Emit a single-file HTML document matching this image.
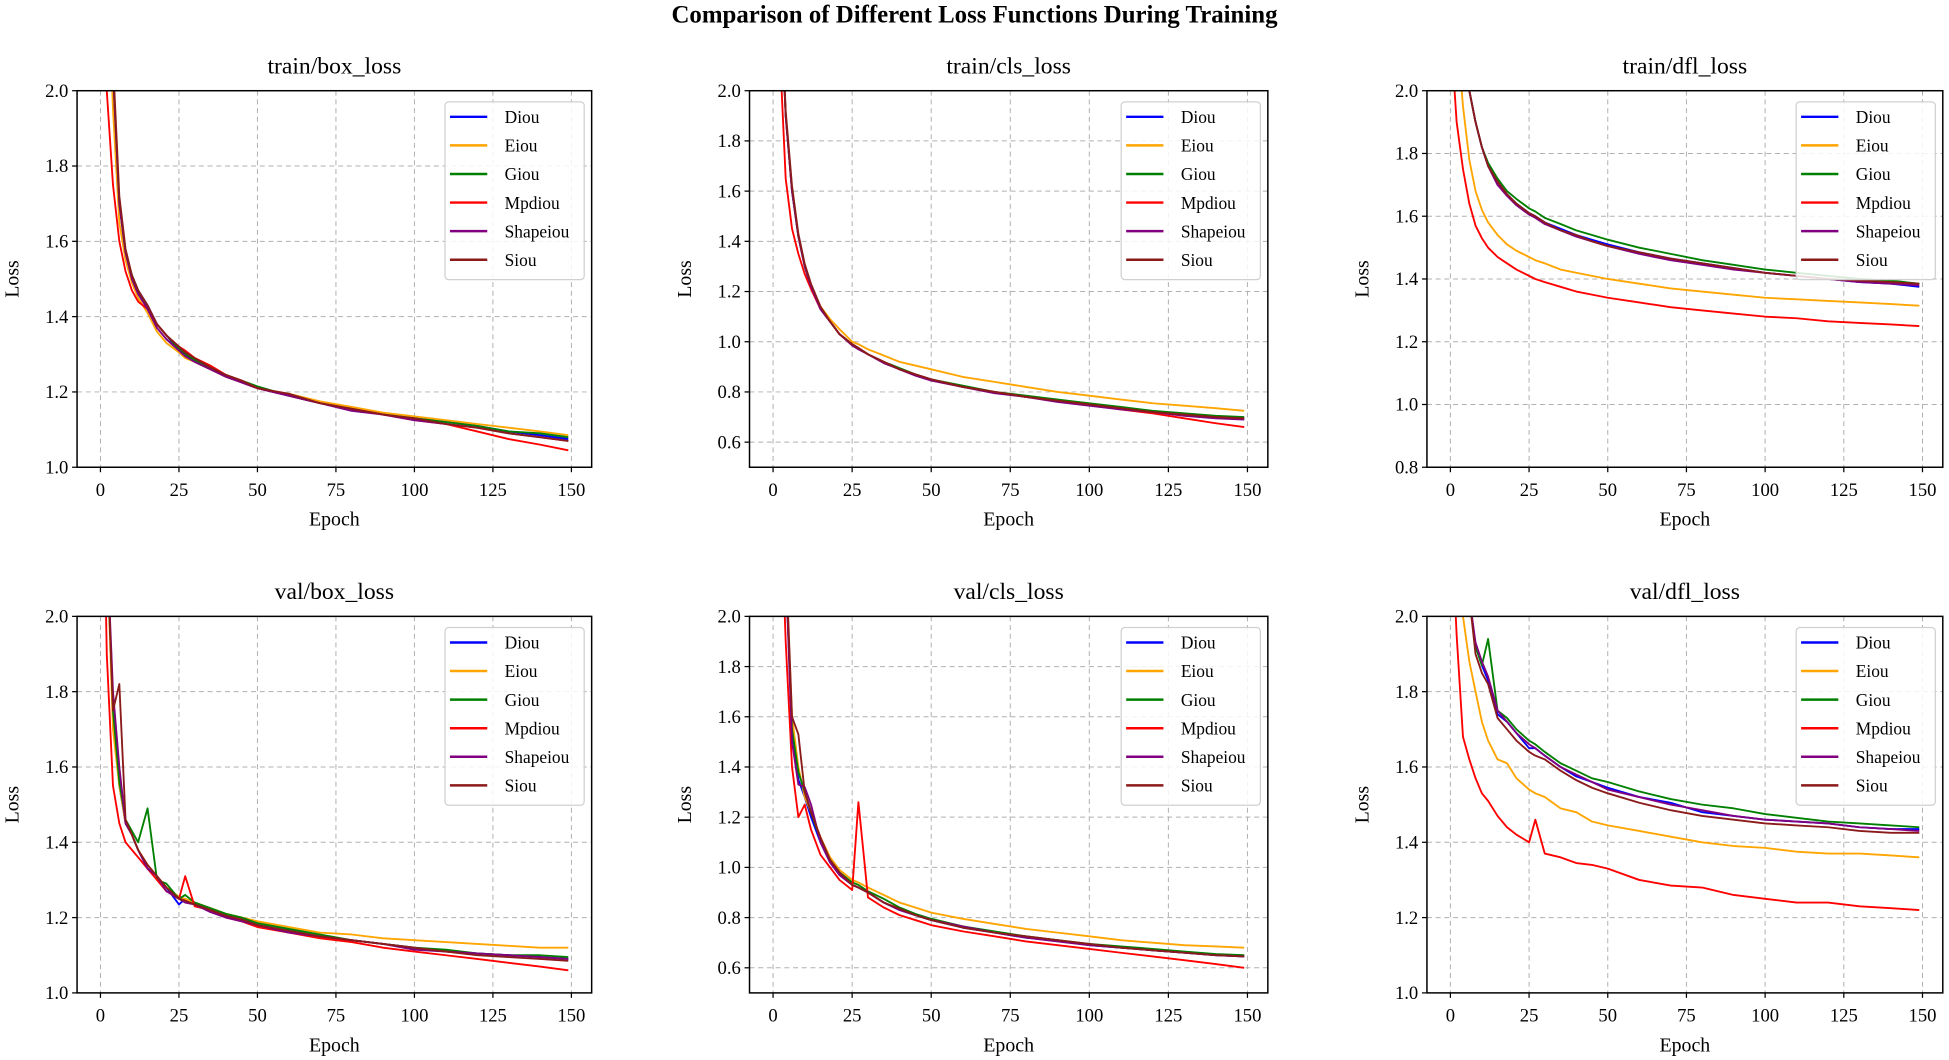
<!DOCTYPE html>
<html><head><meta charset="utf-8"><style>
html,body{margin:0;padding:0;background:#fff;}
svg{display:block;font-family:"Liberation Serif",serif;}
</style></head><body>
<svg id="fig" width="1949" height="1060" viewBox="0 0 1568 853" preserveAspectRatio="none" xmlns="http://www.w3.org/2000/svg">
<rect width="1568" height="853" fill="#fff"/>
<text x="784" y="18" text-anchor="middle" font-size="20" font-weight="bold">Comparison of Different Loss Functions During Training</text>
</svg>
<script>
const epochs=[0,2,4,6,8,10,12,15,18,21,25,27,30,35,40,45,50,60,70,80,90,100,110,120,130,140,149];
const seriesNames=["Diou","Eiou","Giou","Mpdiou","Shapeiou","Siou"];
const seriesColors=["#0000ff","#ffa500","#008000","#ff0000","#800080","#8b1a1a"];
const panelTitles=["train/box_loss","train/cls_loss","train/dfl_loss","val/box_loss","val/cls_loss","val/dfl_loss"];
const yLimits=[[1.0,2.0],[0.5,2.0],[0.8,2.0],[1.0,2.0],[0.5,2.0],[1.0,2.0]];
const yTicks=[[1.0,1.2,1.4,1.6,1.8,2.0],[0.6,0.8,1.0,1.2,1.4,1.6,1.8,2.0],[0.8,1.0,1.2,1.4,1.6,1.8,2.0],[1.0,1.2,1.4,1.6,1.8,2.0],[0.6,0.8,1.0,1.2,1.4,1.6,1.8,2.0],[1.0,1.2,1.4,1.6,1.8,2.0]];
const xTicks=[0,25,50,75,100,125,150];
// train/box
const trainBox=[
[3.0,2.5,2.05,1.7,1.57,1.51,1.47,1.43,1.38,1.35,1.31,1.3,1.285,1.26,1.245,1.225,1.21,1.19,1.17,1.155,1.14,1.13,1.12,1.11,1.095,1.085,1.075],
[2.9,2.4,1.95,1.65,1.55,1.49,1.45,1.41,1.36,1.33,1.305,1.29,1.28,1.26,1.24,1.225,1.21,1.195,1.175,1.16,1.145,1.135,1.125,1.115,1.105,1.095,1.085],
[3.0,2.5,2.05,1.7,1.57,1.51,1.47,1.42,1.38,1.35,1.315,1.3,1.285,1.265,1.245,1.23,1.215,1.19,1.17,1.155,1.14,1.13,1.12,1.11,1.095,1.09,1.08],
[2.6,2.0,1.75,1.6,1.52,1.47,1.44,1.42,1.38,1.35,1.32,1.31,1.29,1.27,1.245,1.23,1.21,1.19,1.17,1.155,1.14,1.125,1.115,1.095,1.075,1.06,1.045],
[3.0,2.5,2.05,1.7,1.57,1.5,1.46,1.42,1.37,1.34,1.31,1.295,1.28,1.26,1.24,1.225,1.21,1.19,1.17,1.15,1.14,1.125,1.115,1.105,1.09,1.08,1.07],
[3.0,2.5,2.08,1.72,1.58,1.51,1.47,1.43,1.38,1.35,1.32,1.305,1.29,1.265,1.245,1.23,1.21,1.195,1.17,1.155,1.14,1.13,1.115,1.105,1.09,1.08,1.07]];
// train/cls
const trainCls=[
[3.5,2.5,1.9,1.6,1.42,1.3,1.22,1.13,1.08,1.03,0.99,0.975,0.95,0.92,0.89,0.87,0.85,0.82,0.8,0.78,0.765,0.75,0.735,0.72,0.71,0.7,0.695],
[3.5,2.5,1.9,1.6,1.42,1.3,1.22,1.14,1.09,1.05,1.0,0.99,0.97,0.945,0.92,0.905,0.89,0.86,0.84,0.82,0.8,0.785,0.77,0.755,0.745,0.735,0.725],
[3.5,2.5,1.9,1.6,1.42,1.3,1.22,1.13,1.08,1.03,0.99,0.975,0.95,0.92,0.895,0.87,0.85,0.825,0.8,0.785,0.77,0.755,0.74,0.725,0.715,0.705,0.7],
[3.0,2.2,1.65,1.45,1.35,1.27,1.21,1.13,1.08,1.03,0.99,0.975,0.95,0.92,0.89,0.87,0.85,0.82,0.8,0.78,0.765,0.75,0.73,0.715,0.695,0.675,0.66],
[3.5,2.5,1.9,1.6,1.42,1.3,1.22,1.13,1.08,1.03,0.985,0.97,0.95,0.915,0.89,0.865,0.845,0.82,0.795,0.78,0.76,0.745,0.73,0.72,0.705,0.695,0.69],
[3.5,2.5,1.92,1.62,1.43,1.31,1.23,1.14,1.08,1.03,0.99,0.975,0.95,0.92,0.89,0.87,0.85,0.82,0.8,0.78,0.765,0.75,0.735,0.72,0.71,0.7,0.695]];
// train/dfl
const trainDfl=[
[3.0,2.6,2.2,2.0,1.9,1.82,1.76,1.71,1.67,1.64,1.61,1.6,1.58,1.56,1.54,1.525,1.51,1.485,1.465,1.45,1.435,1.42,1.41,1.4,1.39,1.385,1.375],
[2.6,2.2,1.95,1.78,1.68,1.62,1.58,1.54,1.51,1.49,1.47,1.46,1.45,1.43,1.42,1.41,1.4,1.385,1.37,1.36,1.35,1.34,1.335,1.33,1.325,1.32,1.315],
[3.0,2.6,2.2,2.0,1.9,1.82,1.77,1.72,1.68,1.655,1.625,1.615,1.595,1.575,1.555,1.54,1.525,1.5,1.48,1.46,1.445,1.43,1.42,1.41,1.4,1.395,1.385],
[2.2,1.9,1.75,1.64,1.57,1.53,1.5,1.47,1.45,1.43,1.41,1.4,1.39,1.375,1.36,1.35,1.34,1.325,1.31,1.3,1.29,1.28,1.275,1.265,1.26,1.255,1.25],
[3.0,2.6,2.2,2.0,1.9,1.82,1.76,1.7,1.665,1.635,1.605,1.595,1.575,1.555,1.535,1.52,1.505,1.48,1.46,1.445,1.43,1.42,1.41,1.4,1.39,1.385,1.38],
[3.0,2.6,2.2,2.0,1.9,1.82,1.76,1.71,1.67,1.64,1.61,1.6,1.58,1.555,1.54,1.52,1.505,1.485,1.465,1.45,1.435,1.42,1.41,1.4,1.395,1.39,1.385]];
// val/box
const valBox=[
[3.0,2.2,1.75,1.55,1.45,1.42,1.38,1.33,1.31,1.28,1.235,1.25,1.235,1.22,1.205,1.195,1.18,1.165,1.15,1.14,1.13,1.12,1.11,1.105,1.1,1.095,1.09],
[3.0,2.2,1.7,1.55,1.45,1.42,1.38,1.34,1.31,1.28,1.255,1.25,1.24,1.225,1.21,1.2,1.19,1.175,1.16,1.155,1.145,1.14,1.135,1.13,1.125,1.12,1.12],
[3.0,2.2,1.75,1.56,1.46,1.43,1.4,1.49,1.3,1.29,1.25,1.26,1.24,1.225,1.21,1.2,1.185,1.17,1.155,1.14,1.13,1.12,1.115,1.105,1.1,1.1,1.095],
[2.8,1.9,1.55,1.45,1.4,1.38,1.36,1.33,1.3,1.27,1.25,1.31,1.23,1.22,1.2,1.19,1.175,1.16,1.145,1.135,1.12,1.11,1.1,1.09,1.08,1.07,1.06],
[3.0,2.2,1.8,1.6,1.45,1.42,1.38,1.33,1.31,1.27,1.25,1.24,1.235,1.215,1.2,1.19,1.18,1.16,1.15,1.14,1.13,1.115,1.11,1.105,1.1,1.095,1.09],
[3.0,2.2,1.75,1.82,1.46,1.42,1.38,1.34,1.31,1.28,1.25,1.245,1.235,1.22,1.205,1.195,1.18,1.165,1.15,1.14,1.13,1.12,1.11,1.1,1.095,1.09,1.085]];
// val/cls
const valCls=[
[4.0,3.0,2.2,1.55,1.35,1.28,1.2,1.1,1.02,0.97,0.93,0.92,0.9,0.86,0.83,0.81,0.79,0.76,0.74,0.72,0.71,0.69,0.68,0.67,0.66,0.65,0.645],
[4.0,3.0,2.2,1.6,1.4,1.28,1.22,1.12,1.04,0.99,0.95,0.94,0.92,0.89,0.86,0.84,0.82,0.795,0.775,0.755,0.74,0.725,0.71,0.7,0.69,0.685,0.68],
[4.0,3.0,2.2,1.55,1.38,1.3,1.22,1.11,1.03,0.98,0.94,0.93,0.905,0.875,0.84,0.815,0.795,0.765,0.745,0.725,0.71,0.695,0.685,0.675,0.665,0.655,0.65],
[3.6,2.6,1.9,1.4,1.2,1.25,1.15,1.05,1.0,0.95,0.91,1.26,0.88,0.84,0.81,0.79,0.77,0.745,0.725,0.705,0.69,0.675,0.66,0.645,0.63,0.615,0.6],
[4.0,3.0,2.2,1.5,1.33,1.32,1.25,1.1,1.02,0.97,0.93,0.92,0.9,0.86,0.83,0.81,0.79,0.765,0.74,0.72,0.705,0.69,0.68,0.67,0.66,0.65,0.645],
[4.0,3.0,2.25,1.6,1.53,1.3,1.22,1.12,1.03,0.98,0.93,0.92,0.9,0.86,0.835,0.81,0.79,0.76,0.74,0.725,0.71,0.695,0.68,0.67,0.66,0.65,0.645]];
// val/dfl
const valDfl=[
[3.0,2.6,2.3,2.05,1.92,1.87,1.83,1.74,1.72,1.69,1.65,1.65,1.63,1.6,1.575,1.56,1.545,1.52,1.505,1.48,1.47,1.46,1.455,1.45,1.44,1.435,1.435],
[2.6,2.2,2.0,1.88,1.8,1.72,1.67,1.62,1.61,1.57,1.54,1.53,1.52,1.49,1.48,1.455,1.445,1.43,1.415,1.4,1.39,1.385,1.375,1.37,1.37,1.365,1.36],
[3.0,2.6,2.3,2.05,1.92,1.87,1.94,1.75,1.73,1.7,1.67,1.66,1.64,1.61,1.59,1.57,1.56,1.535,1.515,1.5,1.49,1.475,1.465,1.455,1.45,1.445,1.44],
[2.3,1.95,1.68,1.62,1.57,1.53,1.51,1.47,1.44,1.42,1.4,1.46,1.37,1.36,1.345,1.34,1.33,1.3,1.285,1.28,1.26,1.25,1.24,1.24,1.23,1.225,1.22],
[3.0,2.6,2.3,2.05,1.93,1.88,1.84,1.75,1.72,1.69,1.66,1.65,1.63,1.6,1.58,1.56,1.54,1.52,1.5,1.485,1.47,1.46,1.455,1.45,1.44,1.435,1.43],
[3.0,2.6,2.3,2.05,1.9,1.85,1.82,1.73,1.7,1.67,1.64,1.63,1.62,1.59,1.565,1.545,1.53,1.505,1.485,1.47,1.46,1.45,1.445,1.44,1.43,1.425,1.425]];
const panelData=[trainBox,trainCls,trainDfl,valBox,valCls,valDfl];

const NS="http://www.w3.org/2000/svg";
const svg=document.getElementById('fig');
const colLeft=[62,603,1148],colW=[414,417,415],rowTop=[73,496],axH=303;
const XMIN=-7.45,XMAX=156.45;
function mk(tag,attrs,parent){const e=document.createElementNS(NS,tag);for(const k in attrs)e.setAttribute(k,attrs[k]);(parent||svg).appendChild(e);return e;}
panelTitles.forEach((title,p)=>{
  const L=colLeft[p%3],W=colW[p%3],T=rowTop[Math.floor(p/3)],B=T+axH,R=L+W;
  const [y0,y1]=yLimits[p];
  const sx=v=>L+(v-XMIN)/(XMAX-XMIN)*W;
  const sy=v=>B-(v-y0)/(y1-y0)*axH;
  const g=mk('g',{});
  
  
  const cp=mk('clipPath',{id:'clip'+p},g);mk('rect',{x:L,y:T,width:W,height:axH},cp);
  // grid
  xTicks.forEach(t=>{const x=sx(t);
    const gl=mk('line',{x1:x,x2:x,y1:T,y2:B,stroke:'#b0b0b0','stroke-width':0.8,'stroke-dasharray':'4,3'},g);
    
    mk('line',{x1:x,x2:x,y1:B,y2:B+4,stroke:'#000','stroke-width':1},g);
    const tl=mk('text',{x:x,y:B+23,'text-anchor':'middle','font-size':15},g);tl.textContent=t;
    
  });
  yTicks[p].forEach(t=>{const y=sy(t);
    const gl=mk('line',{x1:L,x2:R,y1:y,y2:y,stroke:'#b0b0b0','stroke-width':0.8,'stroke-dasharray':'4,3'},g);
    
    mk('line',{x1:L-4,x2:L,y1:y,y2:y,stroke:'#000','stroke-width':1},g);
    const tl=mk('text',{x:L-7,y:y+5,'text-anchor':'end','font-size':15},g);tl.textContent=t.toFixed(1);
    
  });
  // series
  panelData[p].forEach((vals,s)=>{
    const pts=vals.map((v,i)=>sx(epochs[i]).toFixed(1)+','+sy(v).toFixed(1)).join(' ');
    const pl=mk('polyline',{points:pts,fill:'none',stroke:seriesColors[s],'stroke-width':1.5,'clip-path':'url(#clip'+p+')','stroke-linejoin':'round'},g);
    
    
  });
  const fr=mk('rect',{x:L,y:T,width:W,height:axH,fill:'none',stroke:'#000','stroke-width':1.2},g);
  
  const tt=mk('text',{x:L+W/2,y:T-14,'text-anchor':'middle','font-size':19},g);tt.textContent=title;
  
  const xl=mk('text',{x:L+W/2,y:B+47,'text-anchor':'middle','font-size':16},g);xl.textContent='Epoch';
  
  const yl=mk('text',{x:0,y:0,'text-anchor':'middle','font-size':16,transform:'translate('+(L-47)+','+(T+axH/2)+') rotate(-90)'},g);yl.textContent='Loss';
  
  // legend
  const lg=mk('g',{},g);
  
  mk('rect',{x:R-118,y:T+9,width:112,height:143,rx:3,fill:'#fff','fill-opacity':0.85,stroke:'#d0d0d0','stroke-width':1},lg);
  seriesNames.forEach((n,s)=>{const y=T+21+s*23;
    const le=mk('g',{},lg);
    
    mk('line',{x1:R-114,x2:R-84,y1:y,y2:y,stroke:seriesColors[s],'stroke-width':2},le);
    const tx=mk('text',{x:R-70,y:y+5,'font-size':14},le);tx.textContent=n;
  });
});
</script>
</body></html>
